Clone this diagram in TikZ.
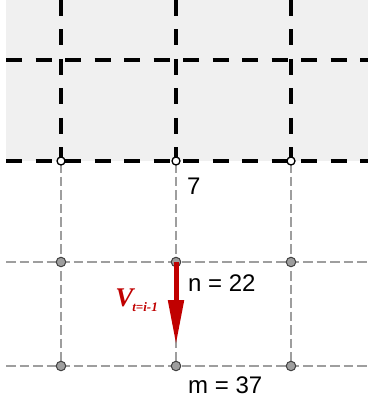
\documentclass[tikz,border=0pt]{standalone}
\usepackage{fontspec}
\setmainfont{Liberation Sans}
\newfontfamily\vfont{Liberation Serif}
\usetikzlibrary{arrows.meta}
\definecolor{vred}{HTML}{C00000}
\definecolor{lgray}{HTML}{9E9E9E}
\tikzset{
  blackdash/.style={line width=3.2pt, black, dash pattern=on 16pt off 13.5pt},
  graydash/.style={line width=2.6pt, lgray, dash pattern=on 9.5pt off 4pt},
  topdot/.style={circle, draw=black, fill=white, line width=1.3pt, inner sep=0pt, minimum size=8pt},
  graydot/.style={circle, draw=black!75, fill=lgray, line width=1pt, inner sep=0pt, minimum size=9.5pt},
  lbl/.style={font=\fontsize{24}{24}\selectfont, inner sep=0pt, anchor=base west},
}
\begin{document}
\begin{tikzpicture}[x=1pt,y=-1pt]
\useasboundingbox (0,0) rectangle (368,403);
% shaded region
\fill[black!6] (6,0) rectangle (368,161);
% grey grid lines (below)
\foreach \x in {61,176,291} \draw[graydash] (\x,163) -- (\x,368);
\draw[graydash] (6,262) -- (368,262);
\draw[graydash] (6,366) -- (368,366);
% black grid lines
\foreach \x in {61,176,291} \draw[blackdash] (\x,0) -- (\x,161);
\draw[blackdash] (6,60) -- (368,60);
\draw[blackdash] (6,161) -- (368,161);
% dots
\node[topdot] (a1) at (61,161) {};
\node[topdot] (a2) at (176,161) {};
\node[topdot] (a3) at (291,161) {};
\node[graydot] (b1) at (61,262) {};
\node[graydot] (b2) at (176,262) {};
\node[graydot] (b3) at (291,262) {};
\node[graydot] (c1) at (61,366) {};
\node[graydot] (c2) at (176,366) {};
\node[graydot] (c3) at (291,366) {};
% arrow
\coordinate (tip) at (176,345);
\draw[vred, line width=5pt, -{Triangle[length=45pt 0, width=15pt 0]}] (b2.center) -- (tip);
% labels
\node[lbl] (t7) at (187,194) {7};
\node[lbl] (tn) at (188,291) {n = 22};
\node[lbl] (tm) at (188,393) {m = 37};
\node[vred, inner sep=0pt, anchor=base east] (tv) at (158,306) {\vfont\bfseries\itshape\fontsize{27}{27}\selectfont V\kern-1pt\raisebox{-5pt}{\fontsize{13}{13}\selectfont t=i-1}};
\end{tikzpicture}
\end{document}
